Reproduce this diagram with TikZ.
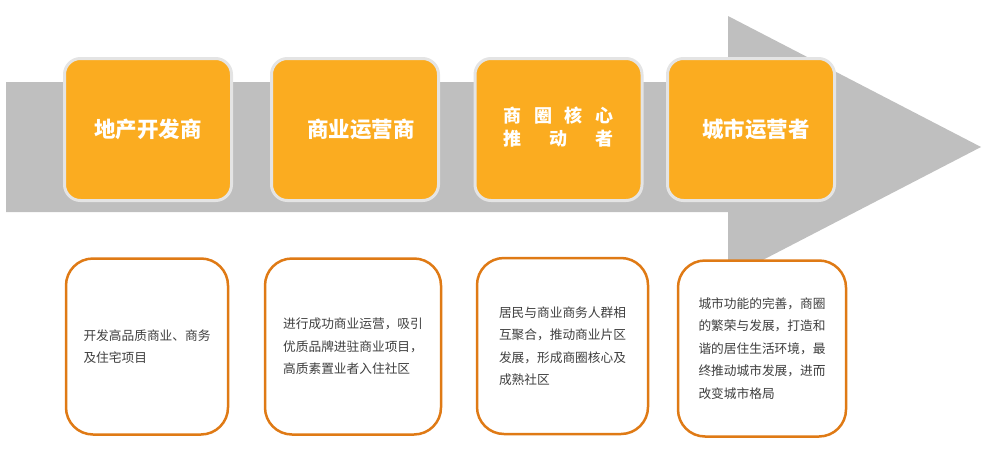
\documentclass[tikz,border=0pt]{standalone}
\usepackage{fontspec}
\setmainfont{Noto Sans CJK SC}
\definecolor{arrowgray}{HTML}{BFBFBF}
\definecolor{stageorange}{HTML}{FBAC20}
\definecolor{stagerim}{HTML}{E4E4E4}
\definecolor{noteline}{HTML}{DF7A15}
\definecolor{notetext}{HTML}{3F3F3F}
\tikzset{
  stage/.style={draw=stagerim, line width=3pt, fill=stageorange,
    rounded corners=16pt, minimum width=167pt, minimum height=142pt,
    text=white, font=\fontsize{21.5}{25}\selectfont\bfseries,
    align=center, inner sep=0pt},
  note/.style={draw=noteline, line width=2.5pt, fill=white,
    rounded corners=27pt, minimum height=176pt,
    text=notetext, font=\fontsize{12.7}{22.5}\selectfont,
    align=left, inner sep=0pt}
}
\begin{document}
\begin{tikzpicture}[x=1pt,y=-1pt]
    \useasboundingbox (0,0) rectangle (1000,471);
    % big arrow behind the stages
    \fill[arrowgray] (6,82) -- (728,82) -- (728,16) -- (981,147)
      -- (728,278) -- (728,212) -- (6,212) -- cycle;
    %
    \node[stage] (dev) at (148,129.5) {地产开发商};
    \node[stage] (oper) at (355,129.5) {\hspace*{12pt}商业运营商};
    \node[stage, font=\fontsize{18}{23}\selectfont\bfseries] (core) at (558.5,129.5)
      {\makebox[110pt][s]{商\hfil 圈\hfil 核\hfil 心}\\
       \makebox[110pt][s]{推\hfil 动\hfil 者}\\[-17pt]};
    \node[stage] (city) at (751,129.5) {\hspace*{10pt}城市运营者};
    %
    \node[note, minimum width=162pt] (devnote) at (147,346.5)
      {开发高品质商业、商务\\及住宅项目};
    \node[note, minimum width=176pt] (opernote) at (353,346.5)
      {进行成功商业运营，吸引\\优质品牌进驻商业项目，\\高质素置业者入住社区};
    \node[note, minimum width=171pt] (corenote) at (562.5,346)
      {居民与商业商务人群相\\互聚合，推动商业片区\\发展，形成商圈核心及\\成熟社区};
    \node[note, minimum width=168pt] (citynote) at (762,348.5)
      {城市功能的完善，商圈\\的繁荣与发展，打造和\\谐的居住生活环境，最\\终推动城市发展，进而\\改变城市格局};
  \end{tikzpicture}
\end{document}
